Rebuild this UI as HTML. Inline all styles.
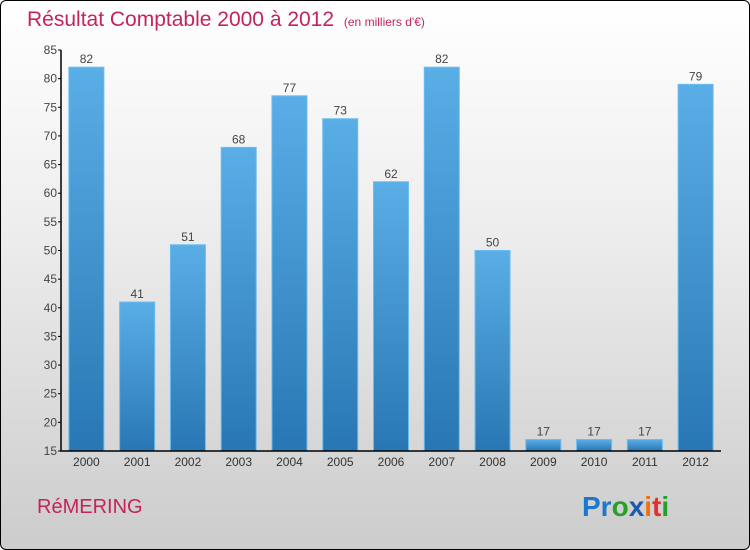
<!DOCTYPE html>
<html><head><meta charset="utf-8"><style>
body{margin:0;width:750px;height:550px;overflow:hidden;font-family:"Liberation Sans",sans-serif}
#wrap{position:absolute;left:0;top:0;width:748px;height:548px;border:1px solid #000;border-radius:6px;background:linear-gradient(#fff 0%,#eee 40%,#ccc 100%)}
</style></head><body>
<div id="wrap">
<svg id="chart" width="750" height="550" style="position:absolute;left:-1px;top:-1px">
<defs><linearGradient id="bg" x1="0" y1="0" x2="0" y2="1"><stop offset="0" stop-color="#5aaee6"/><stop offset="1" stop-color="#2877b4"/></linearGradient></defs>
<text x="27" y="26" font-size="21" fill="#c4245a">Résultat Comptable 2000 à 2012 <tspan font-size="12" dx="4">(en milliers d'€)</tspan></text>
<text x="37" y="513" font-size="20" fill="#c4245a">RéMERING</text>
<text x="582" y="516" font-size="28" font-weight="bold"><tspan fill="#1a78d0">Pr</tspan><tspan fill="#28a028">o</tspan><tspan fill="#1a5ab0">x</tspan><tspan fill="#f07010">i</tspan><tspan fill="#e03030">t</tspan><tspan fill="#28a028">i</tspan></text>
<g id="plot"></g>
</svg></div>
<script>
const categories=["2000","2001","2002","2003","2004","2005","2006","2007","2008","2009","2010","2011","2012"];
const values=[82,41,51,68,77,73,62,82,50,17,17,17,79];
const ticks=[15,20,25,30,35,40,45,50,55,60,65,70,75,80,85];
const ns="http://www.w3.org/2000/svg",g=document.getElementById("plot");
const x0=61,x1=721,yTop=50,yBot=451,vmin=15,vmax=85;
const band=(x1-x0)/categories.length,bw=35;
const y=v=>yBot-(v-vmin)/(vmax-vmin)*(yBot-yTop);
function el(t,a,txt){const e=document.createElementNS(ns,t);for(const k in a)e.setAttribute(k,a[k]);if(txt!=null)e.textContent=txt;g.appendChild(e);return e;}
categories.forEach((c,i)=>{
 const cx=x0+band*(i+0.5),v=values[i];
 const r=el("rect",{x:cx-bw/2,y:y(v),width:bw,height:yBot-y(v),fill:"url(#bg)",stroke:"#6bbcf0","stroke-width":1});
 
 
 const t=el("text",{x:cx,y:y(v)-4,"text-anchor":"middle","font-size":12,fill:"#444"},v);
 
 
 const l=el("text",{x:cx,y:yBot+15,"text-anchor":"middle","font-size":12,fill:"#333"},c);
 
 
});
const ax=el("path",{d:`M${x0},${yTop} V${yBot} H${x1}`,stroke:"#000",fill:"none","stroke-width":1.5});


ticks.forEach(v=>{
 const tk=el("line",{x1:x0-3,x2:x0,y1:y(v),y2:y(v),stroke:"#000"});
 
 
 const t=el("text",{x:x0-4,y:y(v)+4,"text-anchor":"end","font-size":12,fill:"#444"},v);
 
 
});
</script>
</body></html>
